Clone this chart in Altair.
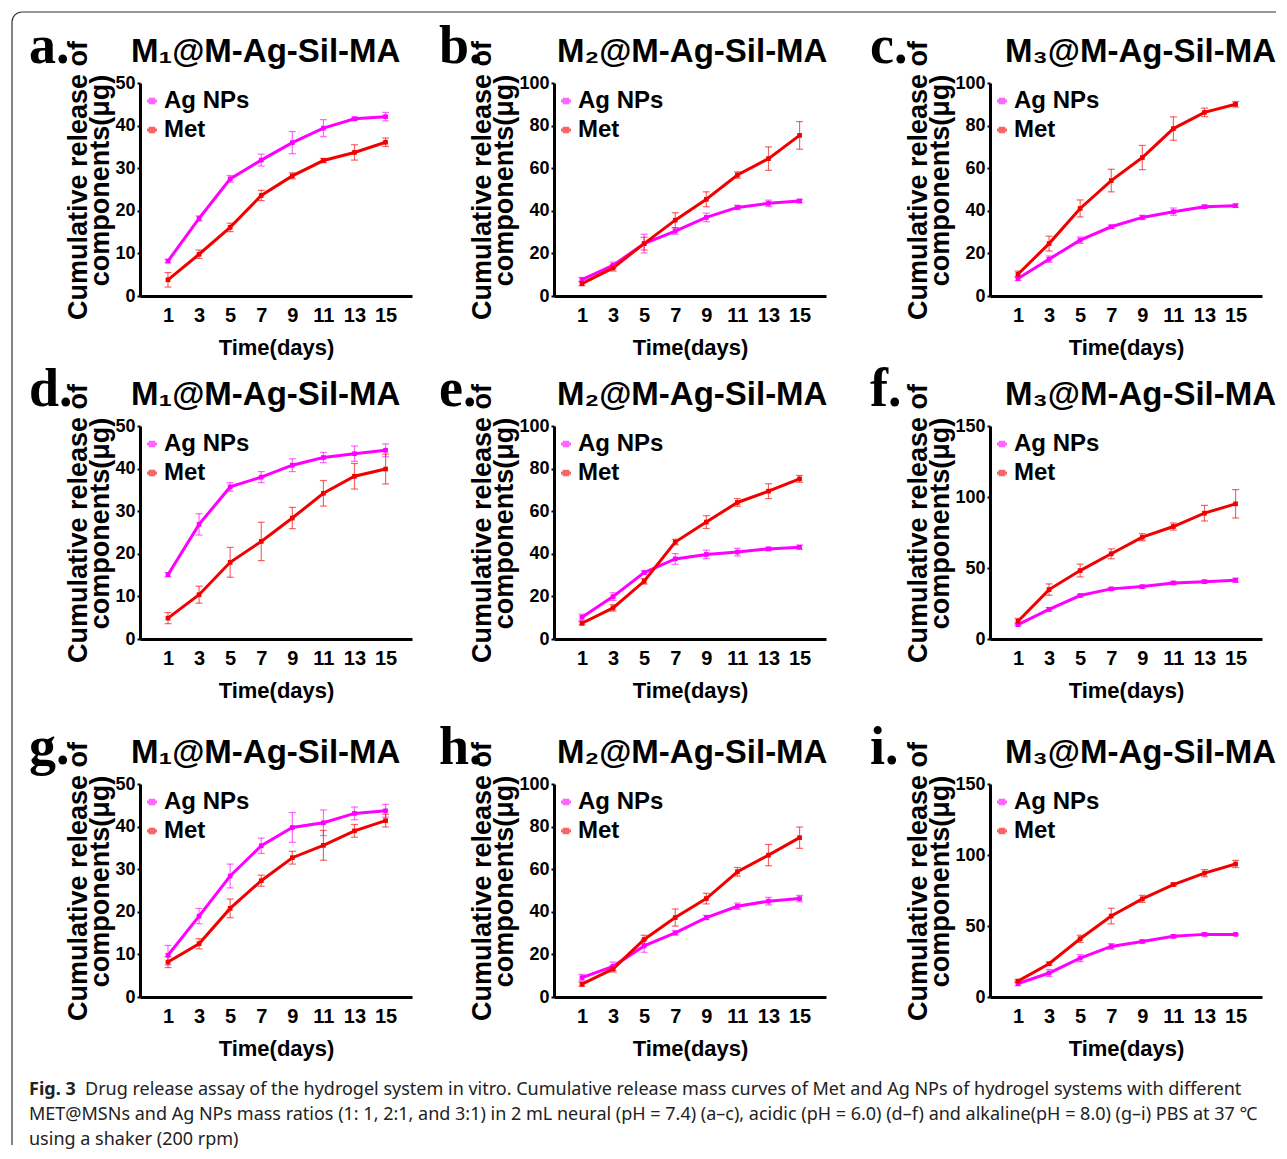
import math
import altair as alt
import pandas as pd

# ---------------- data ----------------
days = [1, 3, 5, 7, 9, 11, 13, 15]
series = ["Ag NPs", "Met"]
letters = ["a.", "b.", "c.", "d.", "e.", "f.", "g.", "h.", "i."]
titles = ["M₁@M-Ag-Sil-MA", "M₂@M-Ag-Sil-MA", "M₃@M-Ag-Sil-MA"] * 3
y_max = [50, 100, 100, 50, 100, 150, 50, 100, 150]
y_step = [10, 20, 20, 10, 20, 50, 10, 20, 50]

ag_a = [8.2, 18.2, 27.5, 31.9, 36.0, 39.4, 41.6, 42.1]
ag_a_sd = [0.4, 0.6, 0.8, 1.4, 2.6, 2.0, 0.4, 1.0]
met_a = [3.8, 9.8, 16.1, 23.6, 28.2, 31.8, 33.7, 36.1]
met_a_sd = [1.7, 1.0, 1.0, 1.2, 0.7, 0.5, 1.8, 1.0]

ag_b = [7.7, 14.4, 24.6, 30.5, 36.9, 41.6, 43.5, 44.6]
ag_b_sd = [1.0, 1.5, 4.4, 1.5, 2.0, 1.0, 1.5, 0.8]
met_b = [5.8, 13.2, 24.6, 35.6, 45.4, 56.8, 64.5, 75.4]
met_b_sd = [1.0, 1.5, 3.0, 3.5, 3.5, 1.5, 5.5, 6.5]

ag_c = [8.2, 17.3, 26.2, 32.5, 36.9, 39.6, 41.9, 42.4]
ag_c_sd = [1.0, 1.5, 1.5, 0.8, 1.0, 1.7, 0.8, 0.8]
met_c = [10.2, 24.6, 41.1, 54.2, 65.0, 78.6, 86.2, 90.0]
met_c_sd = [1.5, 3.5, 4.0, 5.3, 5.7, 5.5, 2.0, 1.3]

ag_d = [15.1, 26.9, 35.7, 38.0, 40.8, 42.6, 43.5, 44.3]
ag_d_sd = [0.5, 2.5, 1.0, 1.3, 1.5, 1.2, 1.8, 1.5]
met_d = [4.9, 10.4, 18.0, 22.9, 28.4, 34.2, 38.2, 39.9]
met_d_sd = [1.3, 2.0, 3.5, 4.5, 2.5, 3.0, 3.0, 3.5]

ag_e = [10.2, 19.9, 31.2, 37.6, 39.7, 40.8, 42.3, 43.1]
ag_e_sd = [1.5, 1.8, 0.8, 2.5, 2.0, 1.8, 0.8, 1.0]
met_e = [7.4, 14.6, 27.1, 45.5, 54.9, 64.1, 69.4, 75.2]
met_e_sd = [0.8, 1.5, 1.3, 1.3, 3.0, 1.8, 3.5, 1.6]

ag_f = [10.1, 20.9, 30.6, 35.3, 36.9, 39.5, 40.4, 41.4]
ag_f_sd = [1.0, 1.3, 1.0, 1.0, 1.0, 1.0, 1.0, 1.5]
met_f = [12.5, 34.8, 48.2, 60.0, 71.7, 79.2, 88.6, 95.2]
met_f_sd = [2.0, 4.0, 4.5, 3.5, 2.5, 2.5, 5.5, 10.0]

ag_g = [9.8, 19.0, 28.4, 35.5, 39.8, 40.9, 43.1, 43.7]
ag_g_sd = [2.3, 1.8, 2.8, 1.8, 3.5, 3.0, 1.5, 1.5]
met_g = [8.2, 12.5, 20.8, 27.3, 32.7, 35.6, 39.0, 41.4]
met_g_sd = [1.3, 1.2, 2.2, 1.3, 1.5, 3.5, 1.5, 1.5]

ag_h = [9.1, 14.4, 24.0, 30.1, 37.3, 42.6, 45.0, 46.2]
ag_h_sd = [1.5, 2.0, 3.0, 1.0, 1.0, 1.5, 1.8, 1.5]
met_h = [6.0, 13.2, 27.0, 37.3, 46.2, 58.8, 66.6, 74.8]
met_h_sd = [1.0, 1.5, 2.0, 4.0, 2.5, 2.0, 5.0, 5.0]

ag_i = [9.4, 16.9, 27.4, 35.6, 39.1, 42.7, 44.1, 44.1]
ag_i_sd = [1.5, 2.5, 2.5, 2.0, 1.0, 1.0, 1.0, 0.5]
met_i = [11.2, 23.4, 41.0, 57.0, 69.1, 79.2, 87.2, 93.7]
met_i_sd = [1.0, 1.0, 2.5, 5.5, 2.5, 1.0, 2.5, 2.5]

caption_bold = "Fig. 3"
caption_lines = [
    "Drug release assay of the hydrogel system in vitro. Cumulative release mass curves of Met and Ag NPs of hydrogel systems with different",
    "MET@MSNs and Ag NPs mass ratios (1: 1, 2:1, and 3:1) in 2 mL neural (pH = 7.4) (a–c), acidic (pH = 6.0) (d–f) and alkaline(pH = 8.0) (g–i) PBS at 37 ℃",
    "using a shaker (200 rpm)",
]

# ---------------- styles ----------------
SANS = "Liberation Sans, Arial, sans-serif"
SERIF = "Liberation Serif, Times New Roman, serif"
CAPFONT = "Noto Sans, sans-serif"
COLORS = ["#ff00ff", "#f20000"]
PW, PH = 272, 213
X_DOMAIN = [-0.8, 16.7]
col_letter_dx = [-111, -115, -120]
col_title_dx = [-9, 3, 15]
CAP_DX = -111
SYM = "M-1,0H1M-0.35,-0.35H0.35V0.35H-0.35Z"
FRAME = "#333333"

panel_data = [
    (ag_a, ag_a_sd, met_a, met_a_sd), (ag_b, ag_b_sd, met_b, met_b_sd), (ag_c, ag_c_sd, met_c, met_c_sd),
    (ag_d, ag_d_sd, met_d, met_d_sd), (ag_e, ag_e_sd, met_e, met_e_sd), (ag_f, ag_f_sd, met_f, met_f_sd),
    (ag_g, ag_g_sd, met_g, met_g_sd), (ag_h, ag_h_sd, met_h, met_h_sd), (ag_i, ag_i_sd, met_i, met_i_sd),
]


def frame_layers():
    one = alt.Chart(pd.DataFrame({"v": [0]}))
    top = one.mark_rule(color=FRAME, strokeWidth=1.2).encode(
        x=alt.value(-118), x2=alt.value(1136), y=alt.value(-71))
    left = one.mark_rule(color=FRAME, strokeWidth=1.2).encode(
        x=alt.value(-128), y=alt.value(-61), y2=alt.value(1062))
    corner = one.mark_arc(radius=10, radius2=10, theta=1.5 * math.pi, theta2=2 * math.pi,
                          stroke=FRAME, strokeWidth=1.2, fillOpacity=0).encode(
        x=alt.value(-118), y=alt.value(-61))
    return [top, left, corner]


def make_panel(k):
    ag, ag_sd, met, met_sd = panel_data[k]
    col = k % 3
    rows = []
    for name, vals, sds in ((series[0], ag, ag_sd), (series[1], met, met_sd)):
        for d, v, s in zip(days, vals, sds):
            rows.append({"day": d, "value": v, "lo": v - s, "hi": v + s, "series": name})
    df = pd.DataFrame(rows)
    base = alt.Chart(df)

    x_axis = alt.Axis(values=days, title="Time(days)", labelFont=SANS, labelFontSize=20,
                      labelFontWeight="bold", labelPadding=9, ticks=False, labelFlush=False,
                      labelOverlap=False, titleFont=SANS, titleFontSize=22, titleFontWeight="bold",
                      titlePadding=12)
    y_axis = alt.Axis(values=list(range(0, y_max[k] + 1, y_step[k])),
                      title=["Cumulative release of", "components(μg)"],
                      labelFont=SANS, labelFontSize=18, labelFontWeight="bold", labelPadding=2,
                      tickSize=3, tickWidth=2, labelFlush=False, titleFont=SANS, titleFontSize=27,
                      titleFontWeight="bold", titleLineHeight=22, titlePadding=0, titleY=97)
    xs = alt.Scale(domain=X_DOMAIN, nice=False, zero=False)
    ys = alt.Scale(domain=[0, y_max[k]], nice=False)
    cs = alt.Scale(domain=series, range=COLORS)
    X = alt.X("day:Q", scale=xs, axis=x_axis)
    legend = alt.Legend(orient="none", legendX=0, legendY=6, title=None, labelFont=SANS,
                        labelFontSize=24, labelFontWeight="bold", labelColor="black",
                        symbolType=SYM, symbolSize=100, symbolStrokeWidth=3, rowPadding=5,
                        labelOffset=0, padding=0)
    C = alt.Color("series:N", scale=cs, legend=legend)

    rule = base.mark_rule(strokeWidth=1.2, opacity=0.6).encode(
        x=X, y=alt.Y("lo:Q", scale=ys, axis=y_axis), y2="hi:Q", color=C)
    cap_lo = base.mark_tick(orient="horizontal", size=7, thickness=1.2, opacity=0.6).encode(
        x=X, y=alt.Y("lo:Q", scale=ys, axis=y_axis), color=C)
    cap_hi = base.mark_tick(orient="horizontal", size=7, thickness=1.2, opacity=0.6).encode(
        x=X, y=alt.Y("hi:Q", scale=ys, axis=y_axis), color=C)
    line = base.mark_line(strokeWidth=3).encode(
        x=X, y=alt.Y("value:Q", scale=ys, axis=y_axis), color=C)
    pts = base.mark_point(filled=True, shape="square", size=22, opacity=1).encode(
        x=X, y=alt.Y("value:Q", scale=ys, axis=y_axis), color=C)

    letter = alt.Chart(pd.DataFrame({"t": [letters[k]]})).mark_text(
        font=SERIF, fontSize=54, fontWeight="bold", align="left", baseline="alphabetic",
        color="black").encode(text="t:N", x=alt.value(col_letter_dx[col]), y=alt.value(-20))
    title = alt.Chart(pd.DataFrame({"t": [titles[k]]})).mark_text(
        font=SANS, fontSize=33, fontWeight="bold", align="left", baseline="alphabetic",
        color="black").encode(text="t:N", x=alt.value(col_title_dx[col]), y=alt.value(-21))

    layers = [rule, cap_lo, cap_hi, line, pts, letter, title]
    if k == 0:
        layers += frame_layers()
    return alt.layer(*layers).properties(width=PW, height=PH)


def spacer(w, h):
    return alt.Chart(pd.DataFrame({"v": [0]})).mark_point(opacity=0, size=0).encode(
        x=alt.value(0), y=alt.value(0)).properties(width=w, height=h)


def panel_row(r):
    return [make_panel(3 * r), spacer(142, PH), make_panel(3 * r + 1), spacer(164, PH),
            make_panel(3 * r + 2)]


def gap_row(h):
    return [spacer(1, h) for _ in range(5)]


cap_df = pd.DataFrame({"line": [0, 1, 2], "text": caption_lines})
cap_base = alt.Chart(cap_df)
CAP_Y = alt.Y("line:O", axis=None, scale=alt.Scale(paddingInner=0, paddingOuter=0))
cap_rest = cap_base.transform_filter("datum.line == 0").mark_text(
    font=CAPFONT, fontSize=18, align="left", baseline="middle", color="#222222").encode(
    x=alt.value(CAP_DX + 56), y=CAP_Y, text="text:N")
cap_other = cap_base.transform_filter("datum.line > 0").mark_text(
    font=CAPFONT, fontSize=18, align="left", baseline="middle", color="#222222").encode(
    x=alt.value(CAP_DX), y=CAP_Y, text="text:N")
cap_fig = alt.Chart(pd.DataFrame({"line": [0], "text": [caption_bold]})).mark_text(
    font=CAPFONT, fontSize=18, fontWeight="bold", align="left", baseline="middle",
    color="#222222").encode(x=alt.value(CAP_DX), y=CAP_Y, text="text:N")
caption = alt.layer(cap_rest, cap_other, cap_fig).properties(width=PW, height=75)

items = (panel_row(0) + gap_row(130) + panel_row(1) + gap_row(145) + panel_row(2)
         + gap_row(80) + [caption])

chart = alt.concat(*items, columns=5, spacing=0, bounds="flush", align="each").resolve_scale(
    color="independent").resolve_legend(color="independent").properties(
    padding={"left": 1, "top": 1, "right": 0, "bottom": 0}
).configure_view(stroke=None).configure_axis(
    domainColor="black", domainWidth=3, tickColor="black", labelColor="black",
    titleColor="black", grid=False
)

chart.save("out.html", embed_options={"renderer": "svg", "actions": False})
